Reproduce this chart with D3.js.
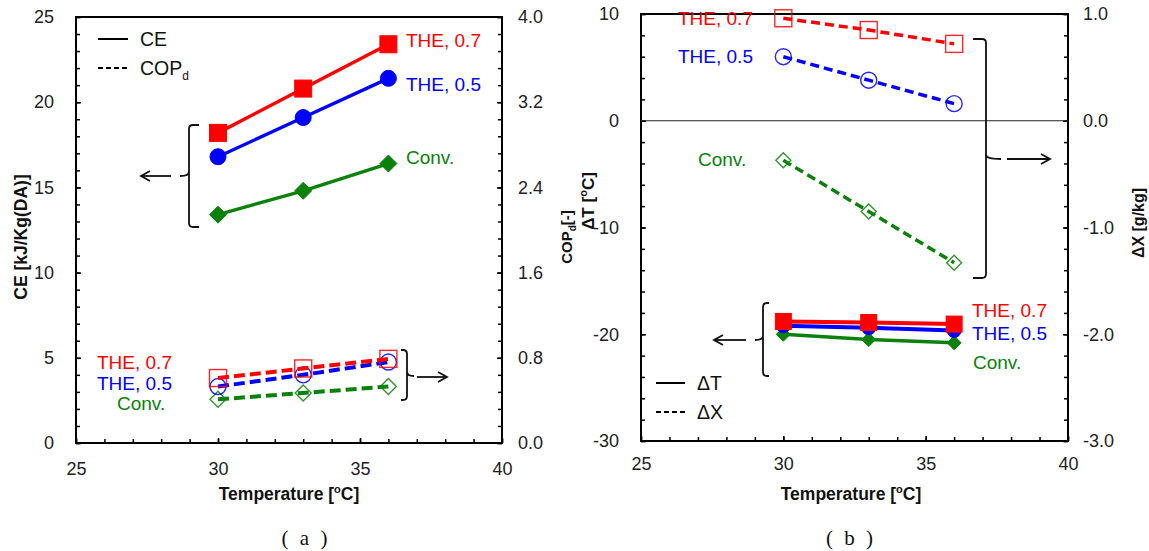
<!DOCTYPE html>
<html><head><meta charset="utf-8">
<script src="https://cdn.jsdelivr.net/npm/d3@7"></script>
<style>
body{margin:0;background:#fff}
svg text{font-family:"Liberation Sans",Arial,sans-serif}
</style>
</head><body>
<svg id="c" width="1149" height="551"></svg>
<script>
// ---------------- DATA ----------------
const temps = [30, 33, 36];
const seriesLabels = ["THE, 0.7", "THE, 0.5", "Conv."];
// (a) CE [kJ/Kg(DA)] – left axis
const ceThe07 = [18.2, 20.8, 23.4];
const ceThe05 = [16.8, 19.1, 21.4];
const ceConv  = [13.4, 14.8, 16.4];
// (a) COPd [-] – right axis
const copThe07 = [0.61, 0.70, 0.79];
const copThe05 = [0.53, 0.64, 0.76];
const copConv  = [0.41, 0.47, 0.53];
// (b) ΔT [°C] – left axis
const dtThe07 = [-18.8, -18.9, -19.05];
const dtThe05 = [-19.2, -19.4, -19.65];
const dtConv  = [-20.0, -20.5, -20.8];
// (b) ΔX [g/kg] – right axis
const dxThe07 = [0.96, 0.85, 0.72];
const dxThe05 = [0.60, 0.38, 0.16];
const dxConv  = [-0.37, -0.85, -1.33];
// tick labels
const xTicks   = [25, 30, 35, 40];
const ceTicks  = [0, 5, 10, 15, 20, 25];
const copTicks = [0, 0.8, 1.6, 2.4, 3.2, 4.0];
const dtTicks  = [-30, -20, -10, 0, 10];
const dxTicks  = [-3, -2, -1, 0, 1];

// ---------------- STYLE ----------------
const RED = "#ff0000", BLUE = "#0000ff", GREEN = "#0a820a";
const svg = d3.select("#c");
svg.append("rect").attr("width",1149).attr("height",551).attr("fill","#fff");

// scales
const xA  = d3.scaleLinear([25,40],[76,502]);
const yA  = d3.scaleLinear([0,25],[443,17]);
const yA2 = d3.scaleLinear([0,4],[443,17]);
const xB  = d3.scaleLinear([25,40],[641,1068]);
const yB  = d3.scaleLinear([-30,10],[441,14]);
const yB2 = d3.scaleLinear([-3,1],[441,14]);

function styleAxis(g){
  g.select(".domain").remove();
  g.attr("font-size",18).attr("font-family","Liberation Sans, Arial, sans-serif");
  g.selectAll("text").attr("fill","#222");
  g.selectAll("line").attr("stroke","#000").attr("stroke-width",1.5);
}
function axis(gen, tx, ty){
  svg.append("g").attr("transform",`translate(${tx},${ty})`).call(gen).call(styleAxis);
}
const fmtInt = d => String(d);
const fmt1 = d => d.toFixed(1);

// ----- panel A axes -----
axis(d3.axisLeft(yA).tickValues(d3.range(0,25.01,1)).tickSize(-4).tickFormat(""),76,0);
axis(d3.axisLeft(yA).tickValues(ceTicks).tickSize(-5).tickPadding(22).tickFormat(fmtInt),76,0);
axis(d3.axisRight(yA2).tickValues(d3.range(0,4.001,0.16)).tickSize(-4).tickFormat(""),502,0);
axis(d3.axisRight(yA2).tickValues(copTicks).tickSize(-5).tickPadding(16).tickFormat(fmt1),502,0);
axis(d3.axisBottom(xA).tickValues(d3.range(25,40.01,1)).tickSize(-4).tickFormat(""),0,443);
axis(d3.axisBottom(xA).tickValues(xTicks).tickSize(-5).tickPadding(19).tickFormat(fmtInt),0,443);
svg.append("rect").attr("x",76).attr("y",17).attr("width",426).attr("height",426)
  .attr("fill","none").attr("stroke","#000").attr("stroke-width",2);

// ----- panel B axes -----
axis(d3.axisLeft(yB).tickValues(d3.range(-30,10.01,2)).tickSize(-4).tickFormat(""),641,0);
axis(d3.axisLeft(yB).tickValues(dtTicks).tickSize(-5).tickPadding(22).tickFormat(fmtInt),641,0);
axis(d3.axisRight(yB2).tickValues(d3.range(-3,1.001,0.2)).tickSize(-4).tickFormat(""),1068,0);
axis(d3.axisRight(yB2).tickValues(dxTicks).tickSize(-5).tickPadding(15).tickFormat(fmt1),1068,0);
axis(d3.axisBottom(xB).tickValues(d3.range(25,40.01,1)).tickSize(-4).tickFormat(""),0,441);
axis(d3.axisBottom(xB).tickValues(xTicks).tickSize(-5).tickPadding(16).tickFormat(fmtInt),0,441);
svg.append("rect").attr("x",641).attr("y",14).attr("width",427).attr("height",427)
  .attr("fill","none").attr("stroke","#000").attr("stroke-width",2);
// zero line
svg.append("line").attr("x1",xB(25)).attr("x2",xB(40)).attr("y1",yB(0)).attr("y2",yB(0))
  .attr("stroke","#222").attr("stroke-width",1.2);

// ----- markers -----
function marker(g, shape, cx, cy, size, color, filled){
  let el;
  const h = size/2;
  if (shape==="square") el = g.append("rect").attr("x",cx-h).attr("y",cy-h).attr("width",size).attr("height",size);
  else if (shape==="circle") el = g.append("circle").attr("cx",cx).attr("cy",cy).attr("r",h);
  else el = g.append("path").attr("d",`M${cx},${cy-h}L${cx+h},${cy}L${cx},${cy+h}L${cx-h},${cy}Z`);
  if (filled) el.attr("fill",color).attr("stroke",color).attr("stroke-width",1);
  else el.attr("fill","none").attr("stroke",color).attr("stroke-width",1.4).attr("stroke-opacity",0.85);
}
function series(x, y, vals, color, shape, dashed, lw, msize, dash){
  const g = svg.append("g");
  const line = d3.line().x((d,i)=>x(temps[i])).y(d=>y(d));
  g.append("path").attr("d",line(vals)).attr("fill","none").attr("stroke",color)
    .attr("stroke-width",lw).attr("stroke-dasharray",dashed?dash:null);
  vals.forEach((v,i)=>marker(g, shape, x(temps[i]), y(v), msize, color, !dashed));
}
// panel A
series(xA,yA2,copConv, GREEN,"diamond",true,4,16,"11,5");
series(xA,yA2,copThe05,BLUE, "circle", true,4,16,"11,5");
series(xA,yA2,copThe07,RED,  "square", true,4,17,"11,5");
series(xA,yA,ceConv, GREEN,"diamond",false,3.4,17,null);
series(xA,yA,ceThe05,BLUE, "circle", false,3.4,16,null);
series(xA,yA,ceThe07,RED,  "square", false,3.4,17,null);
// panel B
series(xB,yB2,dxConv, GREEN,"diamond",true,3.5,15,"9,5");
series(xB,yB2,dxThe05,BLUE, "circle", true,3.5,16,"9,5");
series(xB,yB2,dxThe07,RED,  "square", true,3.5,17,"9,5");
series(xB,yB,dtConv, GREEN,"diamond",false,3.5,14,null);
series(xB,yB,dtThe05,BLUE, "circle", false,4,14,null);
series(xB,yB,dtThe07,RED,  "square", false,4,16,null);

// ----- text labels -----
function label(x, y, txt, color, size){
  return svg.append("text").attr("x",x).attr("y",y).attr("fill",color)
    .attr("font-size",size||19).text(txt);
}
const cols = [RED, BLUE, GREEN];
// panel A upper
[[406,47],[406,91],[406,164]].forEach((p,i)=>label(p[0],p[1],seriesLabels[i],cols[i]));
// panel A lower
[[97,369],[97,390],[117,410]].forEach((p,i)=>label(p[0],p[1],seriesLabels[i],cols[i]));
// panel B upper
[[678,25],[678,63],[698,166]].forEach((p,i)=>label(p[0],p[1],seriesLabels[i],cols[i]));
// panel B lower
[[972,317],[972,340],[973,369]].forEach((p,i)=>label(p[0],p[1],seriesLabels[i],cols[i]));

// ----- legends -----
function legLine(x1,x2,y,dashed){
  svg.append("line").attr("x1",x1).attr("x2",x2).attr("y1",y).attr("y2",y)
    .attr("stroke","#000").attr("stroke-width",2).attr("stroke-dasharray",dashed?"5,3":null);
}
legLine(98,128,39,false);
label(140,46,"CE","#111",19.5);
legLine(98,128,68,true);
const copT = label(140,75,"COP","#111",19.5);
copT.append("tspan").attr("font-size",12).attr("dy",5).text("d");
legLine(656,685,383,false);
label(697,390,"ΔT","#111",19.5);
legLine(656,685,412,true);
label(697,419,"ΔX","#111",19.5);

// ----- brackets & arrows -----
const ann = svg.append("g").attr("fill","none").attr("stroke","#111").attr("stroke-width",1.8);
function bracket(xv, yT, yB_, yN, hook, nub, dir){
  const r = 4;
  const s = dir;
  const d = `M${xv+s*hook},${yT} L${xv+s*r},${yT} Q${xv},${yT} ${xv},${yT+r}
    L${xv},${yN-r} Q${xv},${yN} ${xv-s*nub},${yN} M${xv},${yN-r} Q${xv},${yN} ${xv},${yN+r}
    L${xv},${yB_-r} Q${xv},${yB_} ${xv+s*r},${yB_} L${xv+s*hook},${yB_}`;
  ann.append("path").attr("d",d);
}
function arrow(x1,x2,y){
  const s = x2 > x1 ? 1 : -1;
  ann.append("line").attr("x1",x1).attr("x2",x2).attr("y1",y).attr("y2",y);
  ann.append("path").attr("d",`M${x2-s*9},${y-5} L${x2},${y} L${x2-s*9},${y+5}`);
}
bracket(189,125,227,176,10,9,1);   arrow(171,141,176);
bracket(407,350,400,376,6,7,-1);   arrow(417,447,377);
bracket(986,39,278,159,13,15,-1);  arrow(1007,1050,159);
bracket(763,303,376,340,6,8,1);    arrow(746,714,340);

// ----- axis titles -----
function title(x,y,rot,size){
  return svg.append("text").attr("transform",`translate(${x},${y}) rotate(${rot})`)
    .attr("text-anchor","middle").attr("font-weight","bold").attr("font-size",size).attr("fill","#111");
}
function tempTitle(cx){
  const t = title(cx,500,0,17.5);
  t.append("tspan").text("Temperature [");
  t.append("tspan").attr("font-size",11).attr("dy",-7).text("o");
  t.append("tspan").attr("dy",7).text("C]");
}
tempTitle(289); tempTitle(851);
title(27,237,-90,17.5).text("CE [kJ/Kg(DA)]");
const cop = title(572,237,-90,15);
cop.append("tspan").text("COP");
cop.append("tspan").attr("font-size",10).attr("dy",4).text("d");
cop.append("tspan").attr("dy",-4).text("[-]");
const dT = title(594,201,-90,17);
dT.append("tspan").text("ΔT [");
dT.append("tspan").attr("font-size",11).attr("dy",-7).text("o");
dT.append("tspan").attr("dy",7).text("C]");
title(1144,223,-90,16).text("ΔX [g/kg]");

// ----- captions -----
svg.append("text").attr("x",306).attr("y",545).attr("text-anchor","middle")
  .attr("font-size",21).attr("letter-spacing",3)
  .attr("fill","#111").style("font-family","Liberation Serif, serif").text("( a )");
svg.append("text").attr("x",851).attr("y",545).attr("text-anchor","middle")
  .attr("font-size",21).attr("letter-spacing",3)
  .attr("fill","#111").style("font-family","Liberation Serif, serif").text("( b )");
</script>
</body></html>
